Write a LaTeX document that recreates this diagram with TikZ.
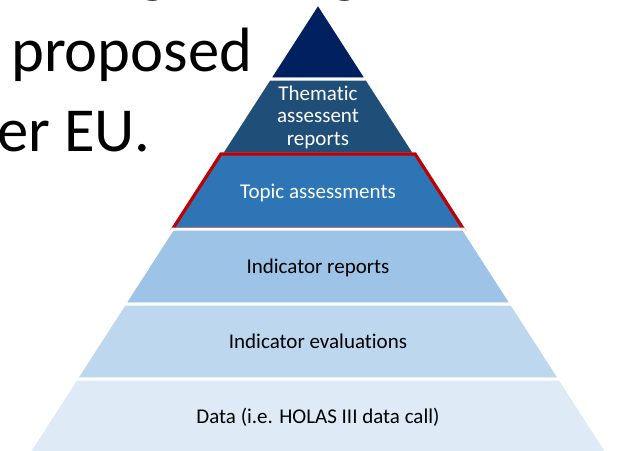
\documentclass[tikz,border=0pt]{standalone}
\usepackage{fontspec}
\setmainfont{Carlito}[Ligatures=NoCommon]
\definecolor{lvlA}{RGB}{0,32,96}
\definecolor{lvlB}{RGB}{31,78,121}
\definecolor{lvlC}{RGB}{46,117,182}
\definecolor{lvlD}{RGB}{157,195,230}
\definecolor{lvlE}{RGB}{189,215,238}
\definecolor{lvlF}{RGB}{222,235,247}
\definecolor{hilite}{RGB}{192,0,0}
\tikzset{
  band/.style={draw=white, line width=3pt, line join=miter},
  redband/.style={draw=hilite, line width=3.2pt, line join=miter},
  bigtext/.style={inner sep=0pt, font=\fontsize{62.6}{80}\selectfont, text=black},
  lbl/.style={inner sep=0pt, font=\fontsize{21}{22.5}\selectfont, align=center},
}
\begin{document}
\begin{tikzpicture}[x=1pt,y=-1pt]
\useasboundingbox (0,0) rectangle (621,450);
\clip (0,0) rectangle (621,450);
% slide title fragments
\node[bigtext, anchor=base west] (g1) at (138,-10) {g};
\node[bigtext, anchor=base west] (g2) at (330,-10) {g};
\node[bigtext, anchor=base west] (title1) at (11,71) {proposed};
\node[bigtext, anchor=base west] (title2) at (-3,151) {er EU.};
% pyramid levels
\coordinate (apex) at (318,3.2);
\coordinate (l1) at (269.2,79);  \coordinate (r1) at (366.8,79);
\coordinate (l2) at (220.9,154); \coordinate (r2) at (415.1,154);
\coordinate (l3) at (172.6,229); \coordinate (r3) at (463.4,229);
\coordinate (l4) at (124.3,304); \coordinate (r4) at (511.7,304);
\coordinate (l5) at (76.0,379);  \coordinate (r5) at (560.0,379);
\coordinate (l6) at (17.4,470);  \coordinate (r6) at (618.6,470);
\filldraw[band, fill=lvlA] (apex) -- (r1) -- (l1) -- cycle;
\filldraw[band, fill=lvlB] (l1) -- (r1) -- (r2) -- (l2) -- cycle;
\filldraw[redband, fill=lvlC] (l2) -- (r2) -- (r3) -- (l3) -- cycle;
\filldraw[band, fill=lvlD] (l3) -- (r3) -- (r4) -- (l4) -- cycle;
\filldraw[band, fill=lvlE] (l4) -- (r4) -- (r5) -- (l5) -- cycle;
\filldraw[band, fill=lvlF] (l5) -- (r5) -- (r6) -- (l6) -- cycle;
% labels
\node[lbl, text=white, anchor=base] (thematic) at (318,145) {Thematic\\assessent\\reports};
\node[lbl, text=white, anchor=base] (topic) at (318,198) {Topic assessments};
\node[lbl, text=black, anchor=base] (reports) at (318,273) {Indicator reports};
\node[lbl, text=black, anchor=base] (evals) at (318,348) {Indicator evaluations};
\node[lbl, text=black, anchor=base] (data) at (318,423) {Data (i.e. HOLAS III data call)};
\end{tikzpicture}
\end{document}
